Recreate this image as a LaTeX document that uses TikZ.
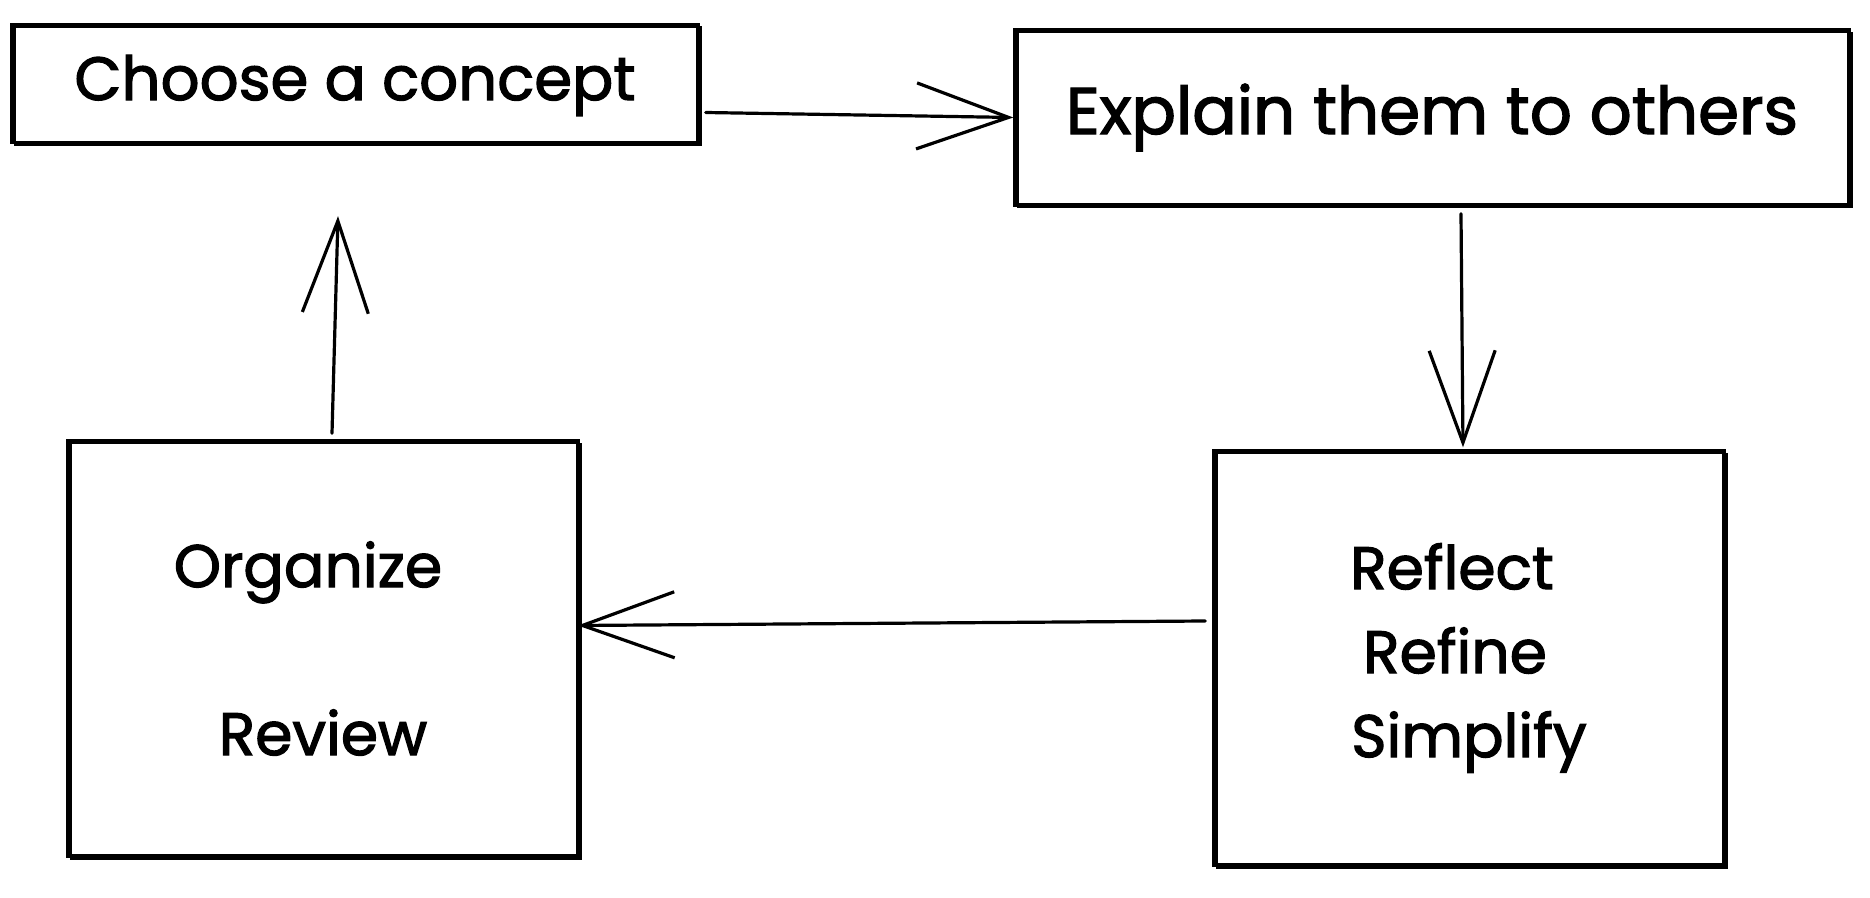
\documentclass[tikz,border=0pt]{standalone}
\usepackage{fontspec}
\setmainfont{Poppins}[FakeBold=2]
\usetikzlibrary{arrows.meta}
\tikzset{
  sketchbox/.style={draw, line width=1.7pt, inner sep=0pt, align=center,
    font=\fontsize{30}{42}\selectfont,
    preaction={draw, line width=0.9pt, transform canvas={xshift=1.6pt, yshift=-1.3pt}}},
  arr/.style={line width=1.6pt, line cap=round,
    -{Straight Barb[length=46pt,width=33pt,line width=1.6pt]}},
}
\begin{document}
\begin{tikzpicture}[x=0.5pt, y=-0.5pt]
\useasboundingbox (0,0) rectangle (1870,898);
\node[sketchbox, minimum width=343pt, minimum height=59pt, font=\fontsize{30.5}{42}\selectfont, text depth=6pt] (A) at (355,83.5) {Choose a concept};
\node[sketchbox, minimum width=417pt, minimum height=87.5pt, font=\fontsize{33}{42}\selectfont] (B) at (1432,117.5) {Explain them to others};
\node[sketchbox, minimum width=255pt, minimum height=207pt] (C) at (1469,658) {Reflect\kern17pt\\Refine\kern14pt\\Simplify};
\node[sketchbox, minimum width=255pt, minimum height=207.5pt] (D) at (323,648.5) {Organize\kern15pt\\[42pt]Review};
\draw[arr] ([shift={(6,29)}]A.east) -- (B.west);
\draw[arr] ([shift={(29,7)}]B.south) -- ([shift={(-6,-2)}]C.north);
\draw[arr] ([shift={(-7,-37)}]C.west) -- ([shift={(-2,-23)}]D.east);
\draw[arr] ([shift={(9,-6)}]D.north) -- ([shift={(-17,72)}]A.south);
\end{tikzpicture}
\end{document}
